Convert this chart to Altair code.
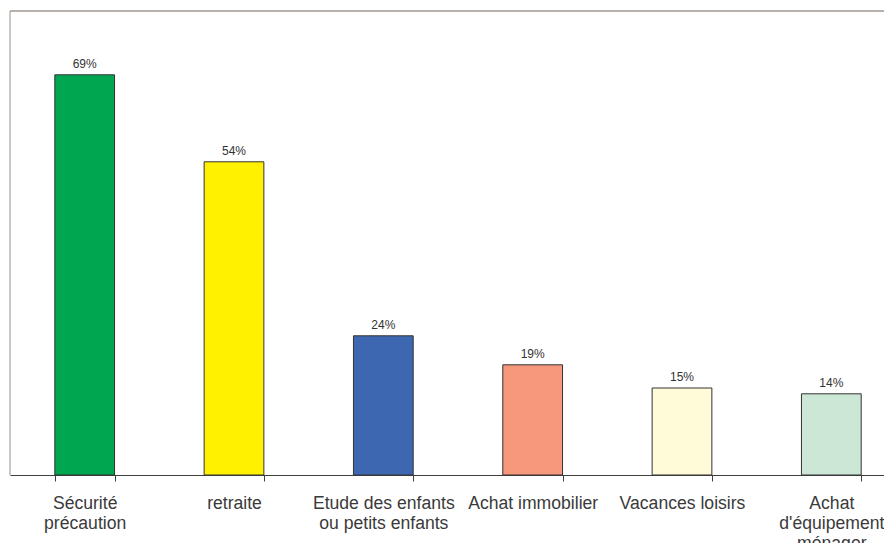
import altair as alt
import pandas as pd

categories = ["Sécurité\nprécaution", "retraite", "Etude des enfants\nou petits enfants",
              "Achat immobilier", "Vacances loisirs", "Achat\nd'équipement\nménager"]
values = [69, 54, 24, 19, 15, 14]
colors = ["#00A650", "#FFF100", "#3D68B1", "#F5987B", "#FFFAD7", "#CCE7D6"]

df = pd.DataFrame({"cat": categories, "val": values, "col": colors,
                   "lab": [f"{v}%" for v in values]})

W, H = 874, 464
FULL_W = 896

x = alt.X("cat:N", sort=categories, title=None,
          scale=alt.Scale(paddingInner=0.6, paddingOuter=0.3, range=[0, FULL_W]),
          axis=alt.Axis(labelAngle=0, tickBand="extent", labelExpr="split(datum.label, '\\n')",
                        labelFont="Liberation Sans", labelFontSize=17.6, labelColor="#3a3a3a",
                        labelLineHeight=20, labelPadding=13, tickSize=6, tickColor="#404040",
                        domainColor="#404040", labelLimit=200, labelOverlap=False))
y = alt.Y("val:Q", scale=alt.Scale(domain=[0, 80]), axis=None)

bars = alt.Chart(df).mark_bar(stroke="#333333", strokeWidth=1).encode(
    x=x, y=y, color=alt.Color("col:N", scale=None))
text = alt.Chart(df).mark_text(dy=-7, baseline="alphabetic", font="Liberation Sans",
                               fontSize=12, color="#333333").encode(
    x=alt.X("cat:N", sort=categories), y=y, text="lab:N")

one = pd.DataFrame({"k": [0]})
top_border = alt.Chart(one).mark_rule(color="#b8b1ab", strokeWidth=2).encode(
    x=alt.value(0), x2=alt.value(FULL_W), y=alt.value(0))
left_border = alt.Chart(one).mark_rule(color="#a8a09a", strokeWidth=1.2).encode(
    x=alt.value(0), y=alt.value(0), y2=alt.value(H))

chart = (top_border + left_border + bars + text).properties(
    width=W, height=H,
    autosize=alt.AutoSizeParams(type="none"),
    padding={"left": 2, "top": 3, "right": 0, "bottom": 68}
).configure_view(stroke=None)

chart.save("out.html", embed_options={"renderer": "svg", "actions": False})
